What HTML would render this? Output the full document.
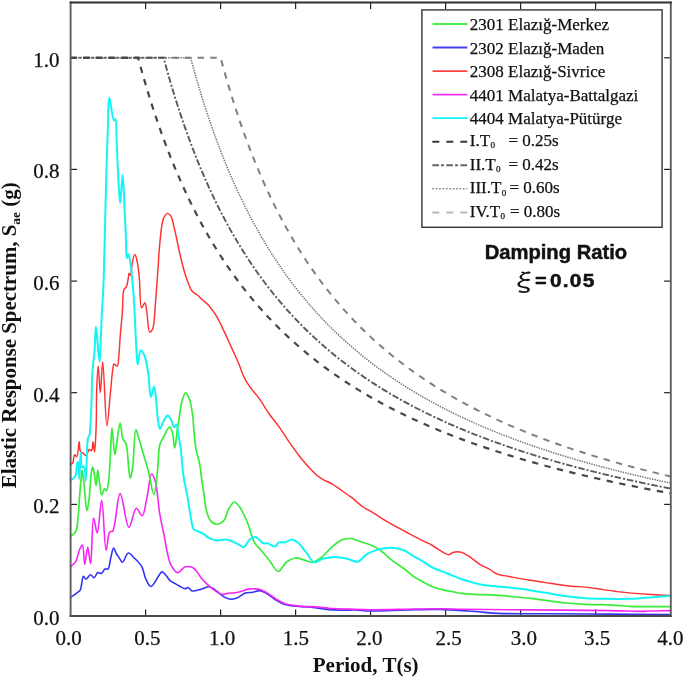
<!DOCTYPE html><html><head><meta charset="utf-8"><title>Elastic Response Spectrum</title>
<style>html,body{margin:0;padding:0;background:#fff;}svg{display:block;}</style></head><body>
<svg width="685" height="679" viewBox="0 0 685 679">
<rect width="685" height="679" fill="#fff"/>
<line x1="145.6" y1="616.0" x2="145.6" y2="609.5" stroke="#222" stroke-width="1.2"/>
<line x1="145.6" y1="2.5" x2="145.6" y2="9.0" stroke="#222" stroke-width="1.2"/>
<line x1="220.6" y1="616.0" x2="220.6" y2="609.5" stroke="#222" stroke-width="1.2"/>
<line x1="220.6" y1="2.5" x2="220.6" y2="9.0" stroke="#222" stroke-width="1.2"/>
<line x1="295.6" y1="616.0" x2="295.6" y2="609.5" stroke="#222" stroke-width="1.2"/>
<line x1="295.6" y1="2.5" x2="295.6" y2="9.0" stroke="#222" stroke-width="1.2"/>
<line x1="370.6" y1="616.0" x2="370.6" y2="609.5" stroke="#222" stroke-width="1.2"/>
<line x1="370.6" y1="2.5" x2="370.6" y2="9.0" stroke="#222" stroke-width="1.2"/>
<line x1="445.6" y1="616.0" x2="445.6" y2="609.5" stroke="#222" stroke-width="1.2"/>
<line x1="445.6" y1="2.5" x2="445.6" y2="9.0" stroke="#222" stroke-width="1.2"/>
<line x1="520.6" y1="616.0" x2="520.6" y2="609.5" stroke="#222" stroke-width="1.2"/>
<line x1="520.6" y1="2.5" x2="520.6" y2="9.0" stroke="#222" stroke-width="1.2"/>
<line x1="595.6" y1="616.0" x2="595.6" y2="609.5" stroke="#222" stroke-width="1.2"/>
<line x1="595.6" y1="2.5" x2="595.6" y2="9.0" stroke="#222" stroke-width="1.2"/>
<line x1="70.6" y1="504.4" x2="77.1" y2="504.4" stroke="#222" stroke-width="1.2"/>
<line x1="670.6" y1="504.4" x2="664.1" y2="504.4" stroke="#222" stroke-width="1.2"/>
<line x1="70.6" y1="392.7" x2="77.1" y2="392.7" stroke="#222" stroke-width="1.2"/>
<line x1="670.6" y1="392.7" x2="664.1" y2="392.7" stroke="#222" stroke-width="1.2"/>
<line x1="70.6" y1="281.1" x2="77.1" y2="281.1" stroke="#222" stroke-width="1.2"/>
<line x1="670.6" y1="281.1" x2="664.1" y2="281.1" stroke="#222" stroke-width="1.2"/>
<line x1="70.6" y1="169.4" x2="77.1" y2="169.4" stroke="#222" stroke-width="1.2"/>
<line x1="670.6" y1="169.4" x2="664.1" y2="169.4" stroke="#222" stroke-width="1.2"/>
<line x1="70.6" y1="57.8" x2="77.1" y2="57.8" stroke="#222" stroke-width="1.2"/>
<line x1="670.6" y1="57.8" x2="664.1" y2="57.8" stroke="#222" stroke-width="1.2"/>
<path d="M70.60,57.80 L220.60,57.80 L223.60,68.75 L226.60,79.27 L229.60,89.40 L232.60,99.15 L235.60,108.55 L238.60,117.61 L241.60,126.35 L244.60,134.79 L247.60,142.95 L250.60,150.83 L253.60,158.46 L256.60,165.84 L259.60,172.98 L262.60,179.91 L265.60,186.62 L268.60,193.12 L271.60,199.43 L274.60,205.56 L277.60,211.51 L280.60,217.29 L283.60,222.90 L286.60,228.36 L289.60,233.67 L292.60,238.84 L295.60,243.87 L298.60,248.76 L301.60,253.53 L304.60,258.18 L307.60,262.71 L310.60,267.13 L313.60,271.43 L316.60,275.63 L319.60,279.73 L322.60,283.74 L325.60,287.65 L328.60,291.47 L331.60,295.20 L334.60,298.84 L337.60,302.40 L340.60,305.89 L343.60,309.30 L346.60,312.63 L349.60,315.89 L352.60,319.09 L355.60,322.21 L358.60,325.27 L361.60,328.27 L364.60,331.20 L367.60,334.08 L370.60,336.90 L373.60,339.66 L376.60,342.37 L379.60,345.03 L382.60,347.63 L385.60,350.19 L388.60,352.70 L391.60,355.16 L394.60,357.57 L397.60,359.94 L400.60,362.27 L403.60,364.56 L406.60,366.80 L409.60,369.01 L412.60,371.18 L415.60,373.30 L418.60,375.40 L421.60,377.45 L424.60,379.47 L427.60,381.46 L430.60,383.42 L433.60,385.34 L436.60,387.23 L439.60,389.09 L442.60,390.92 L445.60,392.72 L448.60,394.49 L451.60,396.24 L454.60,397.95 L457.60,399.64 L460.60,401.31 L463.60,402.95 L466.60,404.56 L469.60,406.15 L472.60,407.72 L475.60,409.26 L478.60,410.78 L481.60,412.28 L484.60,413.75 L487.60,415.21 L490.60,416.64 L493.60,418.06 L496.60,419.45 L499.60,420.83 L502.60,422.18 L505.60,423.52 L508.60,424.84 L511.60,426.14 L514.60,427.42 L517.60,428.68 L520.60,429.93 L523.60,431.17 L526.60,432.38 L529.60,433.58 L532.60,434.77 L535.60,435.94 L538.60,437.09 L541.60,438.23 L544.60,439.35 L547.60,440.47 L550.60,441.56 L553.60,442.65 L556.60,443.72 L559.60,444.77 L562.60,445.82 L565.60,446.85 L568.60,447.87 L571.60,448.87 L574.60,449.87 L577.60,450.85 L580.60,451.82 L583.60,452.78 L586.60,453.73 L589.60,454.67 L592.60,455.60 L595.60,456.51 L598.60,457.42 L601.60,458.32 L604.60,459.20 L607.60,460.08 L610.60,460.94 L613.60,461.80 L616.60,462.65 L619.60,463.49 L622.60,464.32 L625.60,465.14 L628.60,465.95 L631.60,466.75 L634.60,467.54 L637.60,468.33 L640.60,469.11 L643.60,469.87 L646.60,470.64 L649.60,471.39 L652.60,472.13 L655.60,472.87 L658.60,473.60 L661.60,474.32 L664.60,475.04 L667.60,475.75 L670.60,476.45" fill="none" stroke="#808080" stroke-width="2.0" stroke-dasharray="6.5,6.2"/>
<path d="M70.60,57.80 L190.60,57.80 L193.60,68.75 L196.60,79.27 L199.60,89.40 L202.60,99.15 L205.60,108.55 L208.60,117.61 L211.60,126.35 L214.60,134.79 L217.60,142.95 L220.60,150.83 L223.60,158.46 L226.60,165.84 L229.60,172.98 L232.60,179.91 L235.60,186.62 L238.60,193.12 L241.60,199.43 L244.60,205.56 L247.60,211.51 L250.60,217.29 L253.60,222.90 L256.60,228.36 L259.60,233.67 L262.60,238.84 L265.60,243.87 L268.60,248.76 L271.60,253.53 L274.60,258.18 L277.60,262.71 L280.60,267.13 L283.60,271.43 L286.60,275.63 L289.60,279.73 L292.60,283.74 L295.60,287.65 L298.60,291.47 L301.60,295.20 L304.60,298.84 L307.60,302.40 L310.60,305.89 L313.60,309.30 L316.60,312.63 L319.60,315.89 L322.60,319.09 L325.60,322.21 L328.60,325.27 L331.60,328.27 L334.60,331.20 L337.60,334.08 L340.60,336.90 L343.60,339.66 L346.60,342.37 L349.60,345.03 L352.60,347.63 L355.60,350.19 L358.60,352.70 L361.60,355.16 L364.60,357.57 L367.60,359.94 L370.60,362.27 L373.60,364.56 L376.60,366.80 L379.60,369.01 L382.60,371.18 L385.60,373.30 L388.60,375.40 L391.60,377.45 L394.60,379.47 L397.60,381.46 L400.60,383.42 L403.60,385.34 L406.60,387.23 L409.60,389.09 L412.60,390.92 L415.60,392.72 L418.60,394.49 L421.60,396.24 L424.60,397.95 L427.60,399.64 L430.60,401.31 L433.60,402.95 L436.60,404.56 L439.60,406.15 L442.60,407.72 L445.60,409.26 L448.60,410.78 L451.60,412.28 L454.60,413.75 L457.60,415.21 L460.60,416.64 L463.60,418.06 L466.60,419.45 L469.60,420.83 L472.60,422.18 L475.60,423.52 L478.60,424.84 L481.60,426.14 L484.60,427.42 L487.60,428.68 L490.60,429.93 L493.60,431.17 L496.60,432.38 L499.60,433.58 L502.60,434.77 L505.60,435.94 L508.60,437.09 L511.60,438.23 L514.60,439.35 L517.60,440.47 L520.60,441.56 L523.60,442.65 L526.60,443.72 L529.60,444.77 L532.60,445.82 L535.60,446.85 L538.60,447.87 L541.60,448.87 L544.60,449.87 L547.60,450.85 L550.60,451.82 L553.60,452.78 L556.60,453.73 L559.60,454.67 L562.60,455.60 L565.60,456.51 L568.60,457.42 L571.60,458.32 L574.60,459.20 L577.60,460.08 L580.60,460.94 L583.60,461.80 L586.60,462.65 L589.60,463.49 L592.60,464.32 L595.60,465.14 L598.60,465.95 L601.60,466.75 L604.60,467.54 L607.60,468.33 L610.60,469.11 L613.60,469.87 L616.60,470.64 L619.60,471.39 L622.60,472.13 L625.60,472.87 L628.60,473.60 L631.60,474.32 L634.60,475.04 L637.60,475.75 L640.60,476.45 L643.60,477.14 L646.60,477.83 L649.60,478.51 L652.60,479.19 L655.60,479.85 L658.60,480.51 L661.60,481.17 L664.60,481.82 L667.60,482.46 L670.60,483.10" fill="none" stroke="#737373" stroke-width="1.5" stroke-dasharray="1.4,1.1"/>
<path d="M70.60,57.80 L163.60,57.80 L166.60,68.75 L169.60,79.27 L172.60,89.40 L175.60,99.15 L178.60,108.55 L181.60,117.61 L184.60,126.35 L187.60,134.79 L190.60,142.95 L193.60,150.83 L196.60,158.46 L199.60,165.84 L202.60,172.98 L205.60,179.91 L208.60,186.62 L211.60,193.12 L214.60,199.43 L217.60,205.56 L220.60,211.51 L223.60,217.29 L226.60,222.90 L229.60,228.36 L232.60,233.67 L235.60,238.84 L238.60,243.87 L241.60,248.76 L244.60,253.53 L247.60,258.18 L250.60,262.71 L253.60,267.13 L256.60,271.43 L259.60,275.63 L262.60,279.73 L265.60,283.74 L268.60,287.65 L271.60,291.47 L274.60,295.20 L277.60,298.84 L280.60,302.40 L283.60,305.89 L286.60,309.30 L289.60,312.63 L292.60,315.89 L295.60,319.09 L298.60,322.21 L301.60,325.27 L304.60,328.27 L307.60,331.20 L310.60,334.08 L313.60,336.90 L316.60,339.66 L319.60,342.37 L322.60,345.03 L325.60,347.63 L328.60,350.19 L331.60,352.70 L334.60,355.16 L337.60,357.57 L340.60,359.94 L343.60,362.27 L346.60,364.56 L349.60,366.80 L352.60,369.01 L355.60,371.18 L358.60,373.30 L361.60,375.40 L364.60,377.45 L367.60,379.47 L370.60,381.46 L373.60,383.42 L376.60,385.34 L379.60,387.23 L382.60,389.09 L385.60,390.92 L388.60,392.72 L391.60,394.49 L394.60,396.24 L397.60,397.95 L400.60,399.64 L403.60,401.31 L406.60,402.95 L409.60,404.56 L412.60,406.15 L415.60,407.72 L418.60,409.26 L421.60,410.78 L424.60,412.28 L427.60,413.75 L430.60,415.21 L433.60,416.64 L436.60,418.06 L439.60,419.45 L442.60,420.83 L445.60,422.18 L448.60,423.52 L451.60,424.84 L454.60,426.14 L457.60,427.42 L460.60,428.68 L463.60,429.93 L466.60,431.17 L469.60,432.38 L472.60,433.58 L475.60,434.77 L478.60,435.94 L481.60,437.09 L484.60,438.23 L487.60,439.35 L490.60,440.47 L493.60,441.56 L496.60,442.65 L499.60,443.72 L502.60,444.77 L505.60,445.82 L508.60,446.85 L511.60,447.87 L514.60,448.87 L517.60,449.87 L520.60,450.85 L523.60,451.82 L526.60,452.78 L529.60,453.73 L532.60,454.67 L535.60,455.60 L538.60,456.51 L541.60,457.42 L544.60,458.32 L547.60,459.20 L550.60,460.08 L553.60,460.94 L556.60,461.80 L559.60,462.65 L562.60,463.49 L565.60,464.32 L568.60,465.14 L571.60,465.95 L574.60,466.75 L577.60,467.54 L580.60,468.33 L583.60,469.11 L586.60,469.87 L589.60,470.64 L592.60,471.39 L595.60,472.13 L598.60,472.87 L601.60,473.60 L604.60,474.32 L607.60,475.04 L610.60,475.75 L613.60,476.45 L616.60,477.14 L619.60,477.83 L622.60,478.51 L625.60,479.19 L628.60,479.85 L631.60,480.51 L634.60,481.17 L637.60,481.82 L640.60,482.46 L643.60,483.10 L646.60,483.73 L649.60,484.35 L652.60,484.97 L655.60,485.58 L658.60,486.19 L661.60,486.79 L664.60,487.38 L667.60,487.97 L670.60,488.56" fill="none" stroke="#5a5a5a" stroke-width="1.9" stroke-dasharray="6.5,2,2,2"/>
<path d="M70.60,57.80 L138.10,57.80 L141.10,68.75 L144.10,79.27 L147.10,89.40 L150.10,99.15 L153.10,108.55 L156.10,117.61 L159.10,126.35 L162.10,134.79 L165.10,142.95 L168.10,150.83 L171.10,158.46 L174.10,165.84 L177.10,172.98 L180.10,179.91 L183.10,186.62 L186.10,193.12 L189.10,199.43 L192.10,205.56 L195.10,211.51 L198.10,217.29 L201.10,222.90 L204.10,228.36 L207.10,233.67 L210.10,238.84 L213.10,243.87 L216.10,248.76 L219.10,253.53 L222.10,258.18 L225.10,262.71 L228.10,267.13 L231.10,271.43 L234.10,275.63 L237.10,279.73 L240.10,283.74 L243.10,287.65 L246.10,291.47 L249.10,295.20 L252.10,298.84 L255.10,302.40 L258.10,305.89 L261.10,309.30 L264.10,312.63 L267.10,315.89 L270.10,319.09 L273.10,322.21 L276.10,325.27 L279.10,328.27 L282.10,331.20 L285.10,334.08 L288.10,336.90 L291.10,339.66 L294.10,342.37 L297.10,345.03 L300.10,347.63 L303.10,350.19 L306.10,352.70 L309.10,355.16 L312.10,357.57 L315.10,359.94 L318.10,362.27 L321.10,364.56 L324.10,366.80 L327.10,369.01 L330.10,371.18 L333.10,373.30 L336.10,375.40 L339.10,377.45 L342.10,379.47 L345.10,381.46 L348.10,383.42 L351.10,385.34 L354.10,387.23 L357.10,389.09 L360.10,390.92 L363.10,392.72 L366.10,394.49 L369.10,396.24 L372.10,397.95 L375.10,399.64 L378.10,401.31 L381.10,402.95 L384.10,404.56 L387.10,406.15 L390.10,407.72 L393.10,409.26 L396.10,410.78 L399.10,412.28 L402.10,413.75 L405.10,415.21 L408.10,416.64 L411.10,418.06 L414.10,419.45 L417.10,420.83 L420.10,422.18 L423.10,423.52 L426.10,424.84 L429.10,426.14 L432.10,427.42 L435.10,428.68 L438.10,429.93 L441.10,431.17 L444.10,432.38 L447.10,433.58 L450.10,434.77 L453.10,435.94 L456.10,437.09 L459.10,438.23 L462.10,439.35 L465.10,440.47 L468.10,441.56 L471.10,442.65 L474.10,443.72 L477.10,444.77 L480.10,445.82 L483.10,446.85 L486.10,447.87 L489.10,448.87 L492.10,449.87 L495.10,450.85 L498.10,451.82 L501.10,452.78 L504.10,453.73 L507.10,454.67 L510.10,455.60 L513.10,456.51 L516.10,457.42 L519.10,458.32 L522.10,459.20 L525.10,460.08 L528.10,460.94 L531.10,461.80 L534.10,462.65 L537.10,463.49 L540.10,464.32 L543.10,465.14 L546.10,465.95 L549.10,466.75 L552.10,467.54 L555.10,468.33 L558.10,469.11 L561.10,469.87 L564.10,470.64 L567.10,471.39 L570.10,472.13 L573.10,472.87 L576.10,473.60 L579.10,474.32 L582.10,475.04 L585.10,475.75 L588.10,476.45 L591.10,477.14 L594.10,477.83 L597.10,478.51 L600.10,479.19 L603.10,479.85 L606.10,480.51 L609.10,481.17 L612.10,481.82 L615.10,482.46 L618.10,483.10 L621.10,483.73 L624.10,484.35 L627.10,484.97 L630.10,485.58 L633.10,486.19 L636.10,486.79 L639.10,487.38 L642.10,487.97 L645.10,488.56 L648.10,489.14 L651.10,489.71 L654.10,490.28 L657.10,490.84 L660.10,491.40 L663.10,491.96 L666.10,492.50 L669.10,493.05 L670.60,493.32" fill="none" stroke="#474747" stroke-width="2.2" stroke-dasharray="6.3,6.5"/>
<path d="M70.6,597.4 C71.1,597.0 72.6,596.0 73.6,595.3 C74.6,594.6 75.6,593.9 76.6,593.1 C77.8,592.2 79.4,591.5 80.2,590.1 C81.2,588.5 81.2,585.8 81.7,583.6 C82.2,581.2 82.4,576.6 83.4,576.3 C84.1,576.1 85.1,579.2 86.1,579.2 C87.4,579.2 89.0,574.9 90.4,574.8 C91.6,574.7 93.0,577.9 94.1,577.7 C95.4,577.5 96.3,573.2 97.7,572.6 C98.8,572.2 100.3,573.8 101.4,573.4 C102.8,572.9 103.7,569.6 105.0,569.0 C105.9,568.6 107.2,569.6 108.0,569.0 C109.7,567.7 109.9,561.0 110.9,557.3 C111.8,554.0 112.5,548.1 113.6,548.0 C114.5,547.9 115.7,552.8 116.7,554.4 C117.4,555.5 117.9,555.9 118.6,556.9 C119.7,558.3 121.0,562.2 122.4,562.2 C124.2,562.2 126.1,553.3 128.3,553.0 C130.2,552.7 132.4,556.2 134.5,558.2 C136.9,560.6 139.9,563.3 141.8,566.6 C143.8,570.2 144.1,575.7 145.9,579.2 C147.3,582.1 148.9,586.5 151.0,586.5 C153.9,586.6 159.3,572.3 162.0,571.9 C163.2,571.7 163.9,573.1 165.0,574.1 C166.6,575.6 168.2,579.1 170.1,580.7 C171.7,582.1 173.6,582.7 175.2,583.6 C176.7,584.5 178.1,585.4 179.6,586.2 C181.2,587.1 183.1,588.5 184.7,588.7 C186.0,588.8 187.2,587.4 188.4,587.7 C189.7,588.0 190.4,590.4 192.0,590.9 C194.3,591.5 198.6,589.8 201.5,589.1 C204.1,588.4 206.5,586.7 208.8,586.8 C210.9,586.9 212.9,588.3 214.6,589.4 C216.2,590.4 217.4,591.8 219.0,593.1 C220.8,594.5 222.8,596.4 224.9,597.4 C226.9,598.4 229.2,599.3 231.4,599.3 C233.6,599.3 235.8,598.3 238.0,597.4 C240.4,596.4 242.8,593.9 245.3,593.1 C247.7,592.3 250.2,592.7 252.6,592.3 C255.0,591.9 257.5,590.4 259.9,590.6 C262.4,590.8 264.9,592.5 267.5,594.0 C270.4,595.7 273.3,598.5 276.3,600.3 C279.1,602.0 282.0,603.5 285.0,604.5 C287.9,605.4 290.4,605.6 293.8,606.0 C298.6,606.6 305.5,606.6 311.3,607.2 C317.1,607.8 323.5,609.1 328.8,609.6 C333.2,610.0 336.8,610.1 341.0,610.2 C345.5,610.3 350.3,609.9 355.1,610.0 C360.0,610.1 364.0,610.9 370.0,611.0 C379.2,611.2 393.3,610.3 405.0,610.0 C416.7,609.7 428.4,609.1 440.1,609.4 C451.8,609.7 464.6,610.8 475.1,611.5 C483.7,612.1 489.3,613.0 498.5,613.4 C511.8,614.0 530.1,613.6 547.4,613.7 C567.0,613.8 589.3,614.0 610.0,614.1 C630.4,614.2 660.5,614.4 670.6,614.5" fill="none" stroke="#3434f0" stroke-width="1.6" stroke-linejoin="round" stroke-linecap="round"/>
<path d="M70.6,566.5 C71.5,565.6 74.5,563.6 75.9,561.3 C77.7,558.3 78.2,552.4 79.6,549.5 C80.5,547.6 81.7,544.9 82.5,545.1 C84.0,545.5 83.8,564.3 84.7,564.3 C85.6,564.3 86.7,547.3 87.7,547.3 C88.7,547.3 89.8,563.5 90.6,563.5 C92.0,563.4 91.9,518.1 93.6,518.0 C94.6,517.9 96.1,533.1 97.2,533.0 C98.9,532.9 100.3,500.3 101.7,500.3 C103.4,500.3 104.3,550.2 106.1,550.3 C107.2,550.4 107.7,534.1 109.8,531.9 C110.6,531.0 111.8,532.1 112.7,531.1 C115.9,527.6 117.3,493.7 120.1,493.6 C122.8,493.5 125.8,527.2 128.9,527.4 C131.3,527.5 133.6,508.7 136.3,508.3 C138.1,508.0 140.6,516.0 142.2,515.7 C144.3,515.3 145.2,505.6 146.6,499.5 C148.4,491.9 149.7,473.9 151.7,473.7 C152.8,473.6 154.3,478.1 155.4,481.8 C157.5,488.9 158.1,504.5 159.8,514.2 C161.2,522.3 162.9,529.2 164.3,536.3 C165.6,542.8 166.6,549.9 167.9,555.1 C168.8,558.8 169.2,561.7 170.8,564.6 C172.4,567.6 174.9,572.3 177.4,572.6 C179.8,572.9 182.6,567.5 185.4,566.8 C187.8,566.2 190.7,566.6 192.7,567.5 C194.5,568.4 195.7,570.2 197.1,571.9 C198.7,573.8 199.8,576.4 201.5,578.5 C203.2,580.6 205.3,582.5 207.3,584.3 C209.2,586.1 211.2,587.9 213.2,589.4 C215.1,590.8 217.1,592.2 219.0,593.1 C220.5,593.8 222.1,594.5 223.4,594.5 C224.5,594.5 225.0,593.8 226.3,593.5 C228.9,592.9 234.3,593.1 238.0,592.3 C241.6,591.6 245.0,589.6 248.2,589.1 C250.8,588.7 253.4,588.8 255.5,588.9 C257.2,589.0 258.3,589.1 260.0,589.6 C262.2,590.3 265.0,591.6 267.5,593.1 C270.4,594.8 273.3,597.5 276.3,599.3 C279.1,601.0 282.0,602.7 285.0,603.7 C287.9,604.7 290.9,604.9 293.8,605.4 C296.7,605.9 299.7,606.4 302.6,606.6 C305.5,606.8 308.4,606.5 311.3,606.6 C314.2,606.7 317.2,606.9 320.1,607.2 C323.0,607.5 325.9,608.0 328.8,608.2 C331.7,608.5 334.2,608.5 337.6,608.7 C342.4,608.9 349.5,609.2 355.1,609.4 C360.3,609.6 364.0,609.7 370.0,609.7 C379.2,609.7 393.3,609.4 405.0,609.2 C416.7,609.0 429.6,608.7 440.1,608.7 C448.7,608.7 453.7,609.0 463.5,609.2 C480.0,609.5 506.8,609.7 530.0,609.9 C555.4,610.1 589.2,610.3 610.0,610.6 C623.3,610.8 635.9,611.5 642.6,611.4 C645.6,611.3 646.2,611.1 649.0,611.0 C654.1,610.8 667.0,610.7 670.6,610.6" fill="none" stroke="#f526f5" stroke-width="1.6" stroke-linejoin="round" stroke-linecap="round"/>
<path d="M70.6,536.5 C71.5,535.6 74.7,533.7 75.9,531.3 C77.7,527.8 77.5,521.9 78.1,516.6 C78.8,510.3 79.1,502.5 79.6,496.0 C80.1,490.3 80.5,484.5 81.0,479.8 C81.4,476.2 81.7,470.2 82.1,470.2 C82.6,470.2 83.3,478.8 84.0,484.2 C84.9,491.6 85.9,510.7 86.9,510.7 C87.6,510.7 88.5,503.6 89.1,498.9 C90.1,491.8 90.4,477.8 91.4,472.4 C91.8,470.0 92.3,467.2 92.8,467.2 C93.5,467.2 94.4,475.0 95.0,478.3 C95.5,481.0 95.8,485.7 96.2,485.7 C96.7,485.7 97.1,470.2 97.7,470.2 C98.2,470.2 98.8,478.5 99.5,482.7 C100.2,486.9 100.7,495.1 101.7,495.2 C102.5,495.3 103.6,488.7 104.6,488.6 C105.2,488.5 106.0,490.9 106.5,490.8 C107.5,490.5 108.0,485.3 108.6,481.2 C109.6,474.1 109.9,461.1 110.5,451.8 C111.0,443.5 111.3,428.2 112.0,428.2 C112.7,428.2 113.9,454.7 114.9,454.7 C115.6,454.7 116.3,445.1 117.1,440.0 C118.0,434.5 119.1,423.0 120.1,423.0 C121.1,423.0 121.5,435.6 123.0,439.2 C123.8,441.2 125.2,441.4 126.0,443.6 C127.8,448.6 128.0,463.7 128.9,470.0 C129.4,473.5 129.8,478.1 130.4,478.1 C131.0,478.1 131.9,472.5 132.6,468.0 C133.9,459.4 134.2,429.9 135.9,429.7 C136.7,429.6 137.7,434.7 138.6,437.6 C139.7,441.2 140.8,445.2 142.1,449.8 C143.8,455.7 146.2,462.9 148.1,470.0 C150.2,477.7 152.3,494.4 153.9,494.3 C155.5,494.2 156.6,478.2 157.6,470.0 C158.6,461.7 158.2,450.4 159.8,444.7 C160.7,441.5 161.9,440.2 163.3,437.6 C165.0,434.4 167.9,427.1 169.5,427.1 C170.7,427.1 171.6,430.3 172.4,432.7 C173.6,436.5 173.9,448.0 174.7,448.0 C175.6,448.0 176.6,434.0 177.4,428.8 C178.0,425.1 178.4,423.1 179.0,419.5 C179.8,414.5 180.5,406.6 181.9,401.8 C182.9,398.3 184.2,393.0 185.6,392.9 C186.7,392.8 188.3,396.3 189.3,398.8 C190.7,402.3 191.3,406.5 192.2,412.1 C193.7,421.3 194.2,439.4 195.9,448.9 C197.0,455.0 198.6,458.5 199.6,463.6 C200.6,468.9 201.0,474.7 201.8,480.0 C202.5,485.0 203.3,489.8 204.0,494.7 C204.7,499.6 205.1,505.1 206.2,509.5 C207.2,513.3 208.0,517.3 209.9,519.8 C211.4,521.9 213.6,524.0 215.8,524.2 C218.2,524.5 221.9,522.6 223.9,520.5 C226.3,518.0 226.5,512.7 228.4,509.5 C230.1,506.6 232.3,502.1 234.3,502.0 C236.2,501.9 238.5,505.5 240.2,507.8 C242.1,510.4 243.6,514.1 245.0,517.1 C246.3,519.9 247.5,522.4 248.6,525.4 C249.9,528.9 250.8,533.7 252.1,537.1 C253.2,539.8 254.2,542.1 255.6,544.2 C256.9,546.1 258.3,547.0 260.0,549.0 C262.6,552.0 266.5,557.0 269.6,560.8 C272.5,564.4 275.3,571.3 278.2,571.4 C281.0,571.5 283.7,564.1 286.8,561.8 C289.5,559.9 292.5,558.3 295.4,558.0 C298.2,557.7 301.2,559.2 304.0,559.9 C306.9,560.6 309.7,562.6 312.5,562.3 C315.4,562.0 318.2,559.9 321.0,557.8 C324.5,555.2 327.9,550.4 331.5,547.3 C334.9,544.5 338.5,541.3 342.0,539.9 C344.9,538.7 348.3,538.4 350.8,538.5 C352.7,538.6 354.0,539.3 355.7,539.8 C357.5,540.4 359.2,541.3 361.3,542.0 C363.9,542.9 367.2,543.5 370.1,544.7 C373.1,545.9 375.8,547.1 378.8,549.1 C382.7,551.7 386.9,556.3 391.1,559.6 C395.2,562.8 399.8,565.6 403.7,568.5 C407.2,571.1 410.0,573.9 413.3,576.2 C416.4,578.4 419.7,580.1 422.9,581.9 C426.0,583.6 429.2,585.4 432.4,586.7 C435.5,588.0 438.8,588.8 442.0,589.6 C445.2,590.4 448.4,590.9 451.6,591.5 C454.8,592.1 457.7,592.9 461.2,593.4 C465.3,593.9 469.8,594.1 474.6,594.3 C480.0,594.6 486.2,594.5 492.0,594.8 C497.7,595.1 503.2,595.8 509.1,596.3 C515.3,596.9 521.9,597.5 528.3,598.2 C534.7,598.9 541.0,599.9 547.4,600.7 C553.8,601.5 560.2,602.4 566.6,603.0 C573.0,603.6 579.5,604.0 585.7,604.3 C591.6,604.6 597.7,604.5 603.1,604.7 C607.8,604.9 611.9,605.0 616.3,605.3 C620.7,605.6 625.0,606.1 629.4,606.3 C633.8,606.5 637.4,606.5 642.6,606.6 C650.2,606.7 665.9,606.6 670.6,606.6" fill="none" stroke="#3aec3a" stroke-width="1.7" stroke-linejoin="round" stroke-linecap="round"/>
<path d="M70.6,464.2 C70.9,464.0 72.1,463.8 72.7,463.0 C73.8,461.6 73.5,455.2 74.5,454.8 C75.1,454.6 76.2,456.9 76.8,456.6 C78.3,456.0 78.6,441.8 79.2,441.8 C79.7,441.8 79.3,449.3 80.4,451.3 C81.1,452.5 82.4,452.9 83.3,453.6 C84.1,454.2 85.0,455.5 85.7,455.4 C86.4,455.3 86.9,453.9 87.5,453.0 C88.1,452.0 88.4,449.8 89.2,449.5 C89.9,449.3 91.0,451.0 91.6,450.7 C92.7,450.1 92.5,441.8 93.0,441.8 C93.5,441.8 94.1,451.8 94.5,451.8 C95.0,451.8 95.4,442.7 95.7,437.7 C96.0,432.1 96.2,426.5 96.3,420.0 C96.5,411.9 96.3,401.8 96.6,392.8 C96.9,383.8 97.6,366.0 98.2,366.0 C98.8,366.0 99.6,392.8 100.3,392.8 C101.1,392.8 101.8,361.9 102.7,361.9 C104.0,361.9 105.4,425.8 106.9,425.8 C107.8,425.8 109.1,406.7 109.8,399.5 C110.3,394.4 110.6,391.2 111.0,386.6 C111.5,381.4 112.0,374.2 112.7,370.0 C113.1,367.5 113.2,364.2 114.1,363.9 C114.7,363.7 115.8,365.4 116.4,365.7 C116.8,365.9 117.1,366.2 117.4,366.0 C118.5,365.3 118.7,356.5 119.2,351.5 C119.7,346.2 119.8,340.9 120.3,334.9 C120.9,327.9 121.8,319.6 122.4,312.0 C123.0,304.4 122.4,292.9 124.0,289.4 C124.6,288.1 125.6,288.3 126.2,287.2 C127.3,285.2 127.9,280.2 128.4,277.6 C128.7,275.9 128.6,273.3 129.1,273.2 C129.5,273.1 130.2,275.5 130.6,275.4 C131.4,275.2 131.4,268.0 132.1,264.4 C132.8,260.9 133.8,254.1 134.7,254.1 C135.5,254.1 136.5,258.5 137.2,261.5 C138.2,266.1 138.7,272.5 139.4,279.1 C140.2,287.5 139.7,307.3 141.6,307.8 C142.5,308.0 144.1,302.4 144.9,302.6 C145.9,302.8 146.2,307.9 146.8,311.5 C147.8,316.9 147.9,331.5 149.7,332.1 C150.5,332.4 151.8,330.8 152.6,329.1 C154.7,324.6 154.7,310.6 155.6,301.2 C156.5,291.5 157.1,281.5 157.8,271.8 C158.5,262.3 158.8,252.7 159.8,243.6 C160.7,235.0 161.3,223.7 163.5,218.6 C164.6,216.0 166.2,213.5 167.6,213.4 C168.7,213.3 169.9,214.7 170.9,216.2 C172.6,218.9 173.3,224.4 174.6,229.5 C176.3,236.2 178.0,245.7 179.7,253.0 C181.2,259.3 182.5,265.3 184.1,270.7 C185.5,275.5 187.1,280.2 188.6,283.9 C189.8,286.8 190.6,289.4 192.2,291.3 C193.6,293.0 195.7,293.6 197.4,295.0 C199.2,296.5 200.7,298.3 202.6,300.0 C204.7,301.9 207.1,303.5 209.2,305.9 C211.7,308.7 214.2,312.4 216.5,316.2 C219.1,320.6 221.5,325.9 223.9,330.9 C226.4,336.1 228.8,341.7 231.3,347.1 C233.7,352.5 236.3,358.0 238.6,363.3 C240.7,368.3 242.5,374.1 244.5,378.1 C246.0,381.0 247.0,382.7 248.9,385.4 C251.5,389.2 255.9,394.0 259.3,398.7 C262.9,403.7 266.1,409.6 269.6,414.5 C272.7,418.9 276.0,422.6 279.1,426.9 C282.4,431.5 285.5,436.6 288.7,441.3 C291.9,445.9 295.0,450.5 298.3,454.7 C301.4,458.7 304.6,462.6 307.9,466.2 C311.0,469.6 314.5,473.3 317.4,475.7 C319.5,477.4 321.0,478.3 323.2,479.6 C326.0,481.2 329.7,482.5 332.8,484.3 C336.1,486.2 339.1,488.8 342.3,491.0 C345.5,493.2 348.6,495.2 351.9,497.7 C355.5,500.5 359.3,504.4 363.1,507.0 C366.6,509.4 369.9,510.8 373.6,513.1 C378.0,515.7 382.6,519.0 387.6,521.9 C393.1,525.1 399.5,528.5 405.1,531.5 C410.3,534.3 415.2,537.0 420.0,539.4 C424.3,541.6 428.0,543.2 432.4,545.5 C437.5,548.2 444.9,554.6 448.7,554.7 C450.8,554.7 451.6,552.7 453.5,552.2 C455.7,551.7 458.7,551.6 461.2,552.2 C463.8,552.8 466.1,554.4 468.8,556.1 C472.3,558.3 476.5,562.4 480.3,564.7 C483.6,566.7 487.6,568.0 490.0,569.5 C491.6,570.5 492.4,571.5 493.8,572.3 C495.3,573.2 496.6,574.0 498.6,574.6 C501.4,575.5 505.1,575.8 509.1,576.5 C514.5,577.5 521.9,578.9 528.3,580.0 C534.7,581.1 541.0,582.0 547.4,582.9 C553.8,583.9 559.9,584.9 566.6,585.7 C574.0,586.5 583.3,586.8 590.0,587.6 C595.0,588.2 598.7,589.0 603.1,589.6 C607.5,590.3 611.9,590.9 616.3,591.5 C620.7,592.0 625.0,592.5 629.4,592.9 C633.8,593.3 638.2,593.6 642.6,593.9 C647.0,594.2 651.2,594.5 655.7,594.8 C660.5,595.1 668.1,595.4 670.6,595.5" fill="none" stroke="#ff3030" stroke-width="1.45" stroke-linejoin="round" stroke-linecap="round"/>
<path d="M70.6,480.1 C71.0,479.8 72.5,479.1 73.3,478.4 C74.2,477.6 75.1,476.8 75.7,475.4 C76.7,473.0 76.3,466.8 77.0,464.5 C77.3,463.3 77.9,461.9 78.2,462.0 C79.0,462.2 78.9,479.0 79.3,479.0 C79.8,479.0 80.2,452.4 80.7,452.4 C81.1,452.4 80.8,466.3 81.9,467.0 C82.2,467.2 82.6,466.5 83.0,466.6 C83.5,466.7 84.1,467.4 84.5,468.3 C85.5,470.5 85.3,481.0 85.7,481.0 C86.2,481.0 86.5,463.1 86.9,455.4 C87.3,449.0 87.1,441.4 88.0,438.0 C88.4,436.5 89.1,436.4 89.5,435.0 C90.2,432.5 90.2,428.4 90.5,424.0 C90.9,417.5 91.3,408.3 91.6,400.0 C91.9,391.0 91.8,380.6 92.4,372.0 C92.9,364.6 93.9,358.7 94.5,351.5 C95.1,343.7 95.3,326.8 95.9,326.8 C96.4,326.8 97.0,337.6 97.6,343.3 C98.2,349.3 99.1,361.9 99.6,361.9 C100.1,361.9 100.4,348.4 100.7,341.2 C101.1,333.3 101.3,324.9 101.7,316.5 C102.1,307.8 102.8,298.2 103.2,290.0 C103.5,282.9 103.7,278.2 103.9,270.0 C104.3,257.1 104.8,236.7 105.2,220.0 C105.6,203.3 105.9,185.7 106.4,170.0 C106.8,155.9 107.3,142.7 107.8,130.0 C108.3,118.6 108.1,97.5 109.3,97.4 C110.3,97.3 112.3,120.0 113.9,120.5 C114.4,120.6 115.0,118.8 115.4,119.0 C116.7,119.5 116.2,132.4 116.6,140.0 C117.1,149.1 117.3,159.8 117.9,170.0 C118.5,180.8 119.3,203.1 120.1,203.1 C120.9,203.1 122.0,174.7 122.7,174.7 C123.6,174.7 124.2,203.1 124.8,214.2 C125.2,222.2 125.5,227.9 125.8,235.0 C126.2,242.5 126.0,257.8 126.9,258.0 C127.3,258.1 127.9,254.1 128.4,254.1 C129.2,254.2 129.9,260.1 130.6,264.4 C131.7,271.7 132.7,283.5 133.5,293.8 C134.4,305.2 134.9,319.5 135.4,330.0 C135.8,338.0 136.1,345.0 136.5,351.2 C136.9,356.1 137.0,364.4 137.7,364.4 C138.4,364.4 139.2,350.6 140.7,350.3 C141.8,350.1 143.7,353.8 144.8,356.5 C146.5,360.8 147.3,367.8 148.3,374.1 C149.4,381.2 149.6,397.0 150.9,397.1 C151.8,397.2 153.2,386.4 154.1,386.5 C155.1,386.6 155.6,395.5 156.2,400.6 C156.9,406.5 157.2,414.8 158.0,420.0 C158.5,423.5 158.9,428.7 159.8,428.8 C160.7,428.9 162.0,424.0 163.3,421.8 C164.6,419.6 166.3,415.6 167.7,415.6 C168.9,415.6 170.2,418.3 171.2,420.0 C172.4,422.0 173.1,426.9 174.2,427.1 C174.9,427.2 175.9,424.2 176.5,424.4 C177.5,424.7 177.7,430.5 178.3,434.1 C179.1,438.7 180.2,444.3 180.9,449.8 C181.7,456.0 182.1,464.0 182.7,469.5 C183.2,473.6 183.5,476.2 184.1,480.0 C184.9,484.5 186.2,489.6 187.1,494.7 C188.1,500.3 188.9,506.6 190.0,512.4 C191.1,518.1 191.7,526.8 193.7,529.3 C194.6,530.4 195.5,530.2 196.7,530.8 C198.5,531.6 201.2,532.6 203.3,533.8 C205.4,535.0 207.0,537.1 209.2,538.2 C211.4,539.3 213.9,540.2 216.5,540.4 C219.2,540.7 222.4,539.4 225.0,539.5 C227.2,539.6 228.9,540.0 230.9,540.7 C233.2,541.5 235.8,543.1 238.0,544.2 C240.0,545.2 242.0,547.5 243.8,547.1 C246.0,546.6 247.6,541.2 249.7,539.5 C251.4,538.2 253.4,537.0 255.0,537.1 C256.5,537.2 257.9,538.5 259.2,539.5 C260.5,540.5 261.2,542.3 262.7,543.0 C264.3,543.8 266.7,543.0 268.6,543.6 C270.6,544.2 272.7,546.8 274.5,546.6 C276.2,546.4 277.4,543.1 279.2,542.4 C280.9,541.7 283.1,542.8 285.1,542.4 C287.4,541.9 290.0,539.4 292.1,539.5 C293.8,539.6 295.4,540.9 296.8,541.8 C298.0,542.6 299.0,543.6 300.0,544.7 C301.1,545.9 302.2,547.5 303.3,548.9 C304.5,550.4 305.6,551.6 307.0,553.4 C309.0,555.8 311.2,561.5 314.0,562.2 C316.6,562.9 319.6,559.6 322.8,558.7 C326.5,557.7 330.9,556.9 335.0,556.9 C339.1,556.9 343.4,557.9 347.3,558.7 C351.0,559.5 354.6,562.4 357.8,561.7 C361.1,561.0 363.4,556.3 366.6,554.3 C369.8,552.3 373.3,551.0 377.1,549.9 C381.4,548.7 386.4,547.6 391.1,547.7 C395.8,547.8 401.2,549.2 405.1,550.8 C408.3,552.2 410.7,554.6 413.3,556.1 C415.6,557.4 417.5,558.1 420.0,559.6 C423.5,561.6 428.4,565.5 432.4,567.5 C435.7,569.2 438.8,570.1 442.0,571.4 C445.2,572.7 448.4,573.9 451.6,575.2 C454.8,576.5 458.0,577.9 461.2,579.0 C464.4,580.1 467.4,581.0 470.7,581.9 C474.3,582.9 478.7,584.2 482.2,584.8 C485.0,585.3 486.8,585.4 490.0,585.7 C495.0,586.2 502.7,586.9 509.1,587.6 C515.5,588.3 521.9,589.0 528.3,589.9 C534.7,590.8 541.0,591.9 547.4,593.0 C553.8,594.1 560.2,595.4 566.6,596.3 C573.0,597.2 579.5,597.8 585.7,598.2 C591.6,598.6 596.7,598.7 603.1,598.8 C611.0,598.9 622.1,599.0 629.4,598.8 C634.6,598.7 638.2,598.4 642.6,598.1 C647.0,597.8 651.2,597.5 655.7,597.1 C660.5,596.7 668.1,595.9 670.6,595.7" fill="none" stroke="#10f5f5" stroke-width="2.0" stroke-linejoin="round" stroke-linecap="round"/>
<line x1="70.6" y1="1.6" x2="70.6" y2="616.9" stroke="#5e5e5e" stroke-width="1.9"/>
<line x1="670.8000000000001" y1="1.6" x2="670.8000000000001" y2="616.9" stroke="#5e5e5e" stroke-width="1.9"/>
<line x1="69.69999999999999" y1="616.0" x2="671.7" y2="616.0" stroke="#4a4a4a" stroke-width="1.9"/>
<line x1="69.69999999999999" y1="2.5" x2="671.7" y2="2.5" stroke="#303030" stroke-width="1.9"/>
<g font-family="Liberation Serif, Times New Roman, serif" font-size="21" fill="#111" stroke="#111" stroke-width="0.25">
<text x="68.5" y="644.6" text-anchor="middle">0.0</text>
<text x="147.4" y="644.6" text-anchor="middle">0.5</text>
<text x="222.2" y="644.6" text-anchor="middle">1.0</text>
<text x="295.9" y="644.6" text-anchor="middle">1.5</text>
<text x="369.4" y="644.6" text-anchor="middle">2.0</text>
<text x="448.6" y="644.6" text-anchor="middle">2.5</text>
<text x="523.9" y="644.6" text-anchor="middle">3.0</text>
<text x="597.2" y="644.6" text-anchor="middle">3.5</text>
<text x="670.4" y="644.6" text-anchor="middle">4.0</text>
<text x="59.4" y="624.8" text-anchor="end">0.0</text>
<text x="59.4" y="513.2" text-anchor="end">0.2</text>
<text x="59.4" y="401.5" text-anchor="end">0.4</text>
<text x="59.4" y="289.9" text-anchor="end">0.6</text>
<text x="59.4" y="178.2" text-anchor="end">0.8</text>
<text x="59.4" y="66.6" text-anchor="end">1.0</text>
</g>
<text x="365.7" y="671.8" text-anchor="middle" font-family="Liberation Serif, serif" font-weight="bold" font-size="21" fill="#111">Period, T(s)</text>
<text transform="translate(16.3,488.3) rotate(-90)" font-family="Liberation Serif, serif" font-weight="bold" font-size="21" fill="#111" textLength="306" lengthAdjust="spacingAndGlyphs">Elastic Response Spectrum, S<tspan font-size="13.5" dy="4">ae</tspan><tspan dy="-4"> (g)</tspan></text>
<text x="484.7" y="259.4" font-family="Liberation Sans, Arial, sans-serif" font-weight="bold" font-size="19.3" fill="#111" stroke="#111" stroke-width="0.45" textLength="142.4" lengthAdjust="spacingAndGlyphs">Damping Ratio</text>
<text transform="translate(509.4,290.8) scale(1.15,1)" font-family="IPAGothic, Liberation Serif, serif" font-size="26" fill="#111">ξ</text>
<text transform="translate(534.9,287) scale(1.06,1)" font-family="Liberation Sans, Arial, sans-serif" font-weight="bold" font-size="19" fill="#111" stroke="#111" stroke-width="0.3">=</text>
<text transform="scale(1.1,1)" x="500.1 511.7 518.0 529.7" y="286.6" font-family="Liberation Sans, Arial, sans-serif" font-weight="bold" font-size="19" fill="#111" stroke="#111" stroke-width="0.5">0.05</text>
<rect x="421.9" y="9.9" width="240.2" height="217.4" fill="#fff" stroke="#333" stroke-width="1.4"/>
<g font-family="Liberation Serif, Times New Roman, serif" font-size="17" fill="#111" stroke="#111" stroke-width="0.25">
<line x1="432.5" y1="24.0" x2="467.3" y2="24.0" stroke="#4cf04c" stroke-width="1.8"/>
<text x="469.8" y="30.2">2301 Elazığ-Merkez</text>
<line x1="432.5" y1="47.5" x2="467.3" y2="47.5" stroke="#4040f0" stroke-width="1.8"/>
<text x="469.8" y="53.8">2302 Elazığ-Maden</text>
<line x1="432.5" y1="71.1" x2="467.3" y2="71.1" stroke="#fa4444" stroke-width="1.8"/>
<text x="469.8" y="77.3">2308 Elazığ-Sivrice</text>
<line x1="432.5" y1="94.7" x2="467.3" y2="94.7" stroke="#f530f5" stroke-width="1.8"/>
<text x="469.8" y="100.9">4401 Malatya-Battalgazi</text>
<line x1="432.5" y1="118.2" x2="467.3" y2="118.2" stroke="#10f4f4" stroke-width="1.8"/>
<text x="469.8" y="124.4">4404 Malatya-Pütürge</text>
<line x1="432.3" y1="141.8" x2="467.4" y2="141.8" stroke="#3a3a3a" stroke-width="2.0" stroke-dasharray="7,7"/>
<text x="469.8" y="146.2">I.T<tspan font-size="9" dy="2.2" dx="0.3">0</tspan></text>
<text x="508.4" y="146.2">= 0.25s</text>
<line x1="432.3" y1="165.3" x2="467.4" y2="165.3" stroke="#666" stroke-width="1.9" stroke-dasharray="6.7,2.1,2.9,2.3"/>
<text x="469.8" y="169.8">II.T<tspan font-size="9" dy="2.2" dx="0.3">0</tspan></text>
<text x="508.4" y="169.8">= 0.42s</text>
<line x1="432.3" y1="188.8" x2="467.4" y2="188.8" stroke="#8a8a8a" stroke-width="1.6" stroke-dasharray="1.7,1.7"/>
<text x="469.8" y="193.3">III.T<tspan font-size="9" dy="2.2" dx="0.3">0</tspan></text>
<text x="509.4" y="193.3">= 0.60s</text>
<line x1="432.3" y1="212.4" x2="467.4" y2="212.4" stroke="#b8b8b8" stroke-width="2.0" stroke-dasharray="7,7"/>
<text x="469.8" y="216.9">IV.T<tspan font-size="9" dy="2.2" dx="0.3">0</tspan></text>
<text x="509.9" y="216.9">= 0.80s</text>
</g>
</svg></body></html>
